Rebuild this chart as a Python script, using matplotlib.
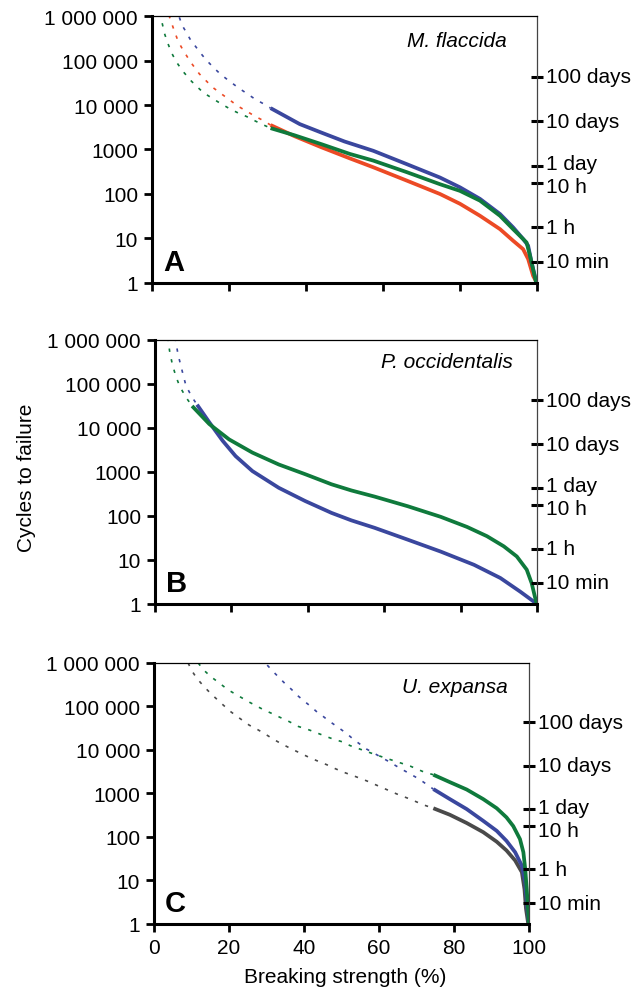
import numpy as np
import matplotlib
matplotlib.use('Agg')
import matplotlib.pyplot as plt

# Data (x = breaking strength %, y = log10 of cycles to failure) ==========
# Panel A - M. flaccida
a_blue_dot_x = [7.1, 7.9, 8.8, 9.9, 11.2, 12.5, 14.0, 15.9, 17.7, 19.6, 22.7, 24.8, 26.8, 28.7, 30.8]
a_blue_dot_y = [5.97, 5.78, 5.65, 5.48, 5.33, 5.18, 5.02, 4.85, 4.70, 4.57, 4.37, 4.25, 4.13, 4.04, 3.93]
a_red_dot_x = [4.4, 5.1, 5.7, 6.8, 7.9, 9.9, 12.3, 15.7, 19.6, 22.4, 24.6, 26.7, 28.7, 30.8]
a_red_dot_y = [6.02, 5.84, 5.69, 5.43, 5.26, 4.98, 4.70, 4.40, 4.15, 3.97, 3.86, 3.75, 3.66, 3.55]
a_green_dot_x = [2.3, 2.6, 3.2, 4.1, 5.1, 6.4, 8.0, 10.3, 13.3, 15.5, 17.7, 20.3, 22.4, 24.6, 26.6, 28.5, 30.8]
a_green_dot_y = [6.08, 5.86, 5.62, 5.39, 5.17, 4.96, 4.76, 4.53, 4.28, 4.16, 4.04, 3.91, 3.82, 3.74, 3.65, 3.57, 3.48]

a_blue_x = [30.8, 38.4, 44.0, 50.0, 57.5, 66.2, 74.8, 80.0, 85.2, 90.4, 93.8, 96.4, 97.7, 98.6, 99.9]
a_blue_y = [3.93, 3.57, 3.38, 3.18, 2.97, 2.67, 2.37, 2.15, 1.89, 1.55, 1.25, 0.99, 0.84, 0.46, 0.0]
a_red_x = [30.8, 37.0, 44.0, 51.4, 57.5, 66.2, 74.8, 80.0, 85.2, 90.4, 93.8, 96.4, 97.7, 99.0, 100]
a_red_y = [3.55, 3.30, 3.05, 2.80, 2.60, 2.30, 2.00, 1.78, 1.51, 1.21, 0.95, 0.76, 0.54, 0.16, 0.0]
a_green_x = [30.8, 37.0, 44.0, 51.4, 57.5, 66.2, 74.8, 80.0, 85.2, 90.4, 93.8, 97.3, 98.2, 99.8]
a_green_y = [3.48, 3.32, 3.12, 2.90, 2.75, 2.49, 2.22, 2.07, 1.85, 1.51, 1.21, 0.91, 0.61, 0.0]

# Panel B - P. occidentalis
b_blue_dot_x = [5.3, 6.0, 7.1, 8.1, 9.7, 11.0]
b_blue_dot_y = [6.05, 5.68, 5.30, 4.96, 4.70, 4.53]
b_green_dot_x = [3.4, 3.8, 4.5, 5.4, 6.4, 8.0, 9.7]
b_green_dot_y = [6.05, 5.76, 5.46, 5.19, 4.96, 4.71, 4.50]

b_blue_x = [11.0, 14.2, 17.7, 21.1, 25.5, 32.4, 39.3, 46.2, 51.4, 57.5, 66.2, 74.8, 83.5, 90.4, 95.6, 100]
b_blue_y = [4.53, 4.13, 3.71, 3.36, 3.02, 2.64, 2.34, 2.07, 1.90, 1.73, 1.46, 1.19, 0.89, 0.59, 0.28, 0.0]
b_green_x = [9.7, 14.2, 19.4, 25.5, 32.4, 39.3, 46.2, 51.4, 57.5, 66.2, 74.8, 81.7, 86.9, 91.3, 94.7, 97.3, 98.6, 99.9]
b_green_y = [4.50, 4.09, 3.74, 3.44, 3.17, 2.95, 2.72, 2.58, 2.44, 2.22, 1.98, 1.75, 1.54, 1.31, 1.08, 0.78, 0.47, 0.0]

# Panel C - U. expansa
c_gray_dot_x = [9.1, 10.1, 11.4, 13.1, 15.1, 17.6, 20.3, 22.5, 25.4, 27.4, 29.6, 31.4, 33.6, 36.3,
                39.4, 41.6, 43.8, 46.1, 47.8, 50.5, 53.1, 56.7, 60.7, 64.7, 68.3, 71.8, 74.5]
c_gray_dot_y = [6.0, 5.82, 5.65, 5.48, 5.30, 5.10, 4.89, 4.75, 4.57, 4.48, 4.37, 4.27, 4.16, 4.04,
                3.91, 3.82, 3.74, 3.66, 3.59, 3.49, 3.41, 3.29, 3.14, 2.99, 2.87, 2.74, 2.66]
c_green_dot_x = [11.8, 13.1, 15.1, 17.4, 19.8, 22.2, 25.4, 29.1, 31.4, 33.6, 36.1, 38.5, 41.4, 43.5,
                 45.9, 47.8, 50.5, 52.3, 54.9, 58.5, 61.2, 65.1, 68.3, 71.8, 74.5]
c_green_dot_y = [6.0, 5.85, 5.69, 5.54, 5.38, 5.26, 5.10, 4.93, 4.84, 4.75, 4.65, 4.54, 4.46, 4.39,
                 4.31, 4.25, 4.18, 4.10, 4.02, 3.91, 3.83, 3.72, 3.63, 3.50, 3.43]
c_blue_dot_x = [30.2, 31.8, 33.4, 34.9, 36.7, 38.3, 40.1, 42.1, 43.5, 44.7, 46.3, 48.1, 49.9, 51.5,
                53.1, 56.7, 59.4, 62.9, 65.6, 68.7, 70.9, 74.5]
c_blue_dot_y = [5.95, 5.80, 5.66, 5.53, 5.39, 5.25, 5.12, 4.98, 4.87, 4.80, 4.69, 4.58, 4.47, 4.37,
                4.25, 4.02, 3.89, 3.72, 3.58, 3.43, 3.32, 3.10]

c_green_x = [74.5, 78.9, 83.4, 87.8, 91.4, 94.0, 95.8, 97.6, 98.5, 99.0, 99.4, 100]
c_green_y = [3.43, 3.26, 3.09, 2.87, 2.66, 2.45, 2.25, 1.95, 1.65, 1.26, 0.80, 0.0]
c_blue_x = [74.5, 78.9, 83.4, 87.8, 91.4, 94.0, 96.3, 98.1, 99.0, 99.4, 100]
c_blue_y = [3.10, 2.87, 2.64, 2.37, 2.14, 1.91, 1.65, 1.34, 0.96, 0.50, 0.0]
c_gray_x = [74.5, 78.9, 83.4, 87.8, 91.4, 94.0, 96.3, 98.1, 98.8, 99.2, 99.8]
c_gray_y = [2.66, 2.51, 2.32, 2.11, 1.89, 1.69, 1.46, 1.19, 0.80, 0.35, 0.0]

# right-hand time axis: one wave cycle = 200 s
time_labels = ['10 min', '1 h', '10 h', '1 day', '10 days', '100 days']
time_seconds = [600, 3600, 36000, 86400, 864000, 8640000]
time_nudge = [0, 0, -3, 1.5, 0, 0]   # label offsets (points) so 10 h / 1 day don't collide

ytick_vals = [1, 10, 100, 1000, 10000, 100000, 1000000]
ytick_labels = ['1', '10', '100', '1000', '10 000', '100 000', '1 000 000']
xtick_vals = [0, 20, 40, 60, 80, 100]

BLUE = '#3a479e'
RED = '#ec4a25'
GREEN = '#0f7a3c'
GRAY = '#4a4a4a'
FS = 15

plt.rcParams['font.family'] = ['Liberation Sans', 'DejaVu Sans']

fig = plt.figure(figsize=(6.44, 9.95), dpi=100)
boxes = [[0.2360, 0.7146, 0.5978, 0.2683],
         [0.2407, 0.3920, 0.5932, 0.2653],
         [0.2391, 0.0704, 0.5823, 0.2623]]

panels = [
    ('A', 'M. flaccida', (0.922, 0.91),
     [(a_blue_dot_x, a_blue_dot_y, BLUE), (a_red_dot_x, a_red_dot_y, RED),
      (a_green_dot_x, a_green_dot_y, GREEN)],
     [(a_red_x, a_red_y, RED), (a_blue_x, a_blue_y, BLUE), (a_green_x, a_green_y, GREEN)]),
    ('B', 'P. occidentalis', (0.937, 0.917),
     [(b_blue_dot_x, b_blue_dot_y, BLUE), (b_green_dot_x, b_green_dot_y, GREEN)],
     [(b_blue_x, b_blue_y, BLUE), (b_green_x, b_green_y, GREEN)]),
    ('C', 'U. expansa', (0.944, 0.908),
     [(c_green_dot_x, c_green_dot_y, GREEN), (c_blue_dot_x, c_blue_dot_y, BLUE),
      (c_gray_dot_x, c_gray_dot_y, GRAY)],
     [(c_gray_x, c_gray_y, GRAY), (c_blue_x, c_blue_y, BLUE), (c_green_x, c_green_y, GREEN)]),
]

for i, (letter, species, spos, dots, solids) in enumerate(panels):
    ax = fig.add_axes(boxes[i])
    for xs, ys, c in dots:
        ax.plot(xs, 10 ** np.array(ys), color=c, lw=1.2, ls=(0, (2.0, 4.5)))
    for xs, ys, c in solids:
        ax.plot(xs, 10 ** np.array(ys), color=c, lw=2.7, solid_capstyle='butt',
                solid_joinstyle='round')
    ax.set_yscale('log')
    ax.set_xlim(0, 100)
    ax.set_ylim(1, 1e6)
    ax.set_yticks(ytick_vals)
    ax.set_yticklabels(ytick_labels, fontsize=FS)
    ax.yaxis.set_minor_locator(matplotlib.ticker.NullLocator())
    ax.set_xticks(xtick_vals)
    if i == 2:
        ax.set_xticklabels([str(v) for v in xtick_vals], fontsize=FS)
    else:
        ax.set_xticklabels([])
    ax.tick_params(axis='both', direction='out', length=6, width=2, pad=4)
    ax.tick_params(axis='y', right=False)
    ax.spines['left'].set_linewidth(2.2)
    ax.spines['bottom'].set_linewidth(2.2)
    ax.spines['top'].set_linewidth(0.9)
    ax.spines['right'].set_linewidth(0.9)
    ax.spines['right'].set_color('#444444')

    ax.text(0.03, 0.05, letter, transform=ax.transAxes, fontsize=21,
            fontweight='bold', ha='left', va='baseline')
    ax.text(spos[0], spos[1], species, transform=ax.transAxes, fontsize=FS,
            style='italic', ha='right', va='center')

    # time scale on the right spine
    ytr = ax.get_yaxis_transform()
    for lab, sec, dy in zip(time_labels, time_seconds, time_nudge):
        cyc = sec / 200
        ax.plot([0.985, 1.015], [cyc, cyc], color='black', lw=2.2,
                transform=ytr, clip_on=False, solid_capstyle='butt')
        ax.annotate(lab, xy=(1, cyc), xycoords=ytr, xytext=(6.5, dy),
                    textcoords='offset points', fontsize=FS, ha='left', va='center')

fig.text(345 / 644, 1 - 978 / 995, 'Breaking strength (%)', fontsize=FS,
         ha='center', va='center')
fig.text(27 / 644, 1 - 478 / 995, 'Cycles to failure', rotation=90, fontsize=FS,
         ha='center', va='center')

fig.savefig('out.png', dpi=100)
